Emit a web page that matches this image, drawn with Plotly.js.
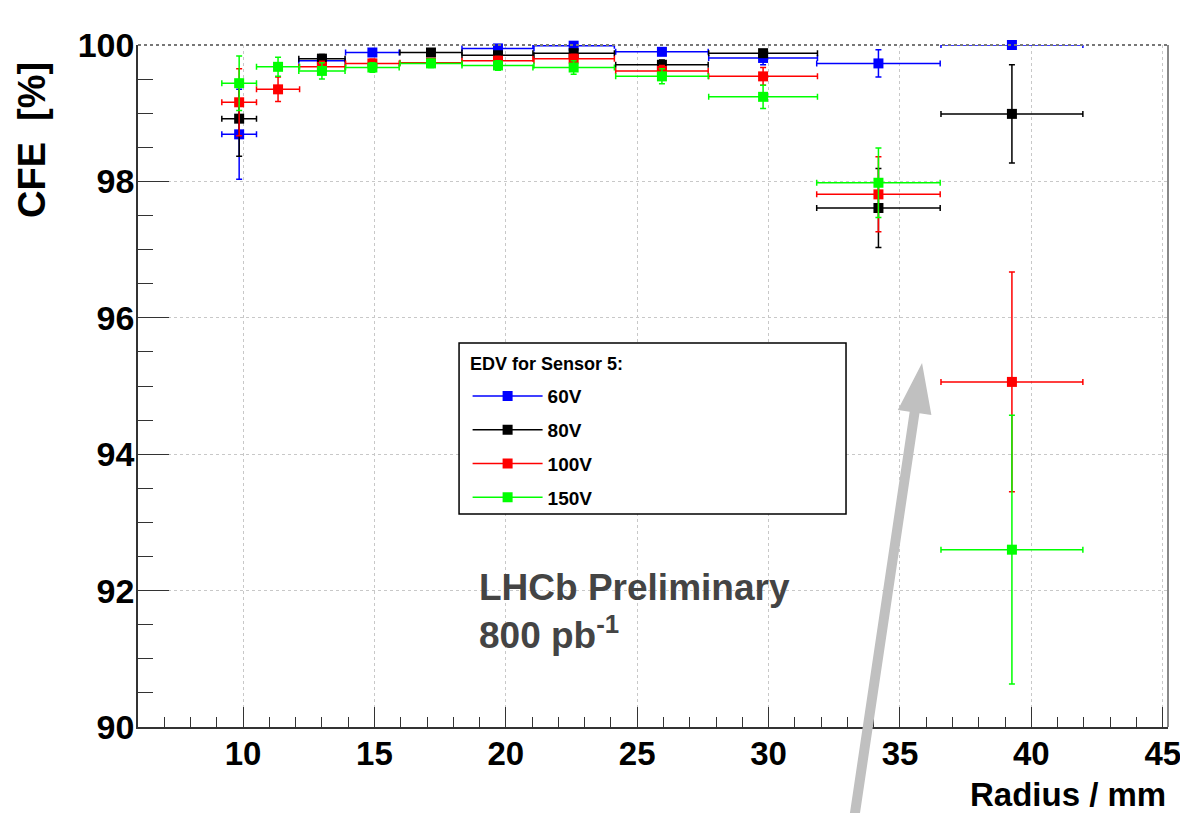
<!DOCTYPE html>
<html>
<head>
<meta charset="utf-8">
<script src="https://cdn.plot.ly/plotly-3.0.1.min.js"></script>
<style>html,body{margin:0;padding:0;background:#fff;}#chart{width:1180px;height:813px;}</style>
</head>
<body>
<div id="chart"></div>
<script>
// Radius bins (mm) and half bin widths
const radius    = [9.85, 11.33, 13.0, 14.92, 17.15, 19.7, 22.58, 25.94, 29.79, 34.18, 39.26];
const radiusErr = [0.66, 0.82, 0.88, 1.02, 1.18, 1.37, 1.55, 1.76, 2.07, 2.35, 2.70];

// CFE [%] per bias voltage (null = no point shown)
const cfe60V  = [98.69, null, 99.77, 99.89, null, 99.95, 99.99, 99.90, 99.81, 99.73, 100.0];
const err60V  = [0.66, null, 0.05, 0.04, null, 0.03, 0.02, 0.04, 0.10, 0.20, 0.0];
const cfe80V  = [98.92, null, 99.80, null, 99.89, 99.85, 99.88, 99.71, 99.88, 97.61, 98.99];
const err80V  = [0.55, null, 0.06, null, 0.04, 0.05, 0.05, 0.07, 0.05, 0.58, 0.72];
const cfe100V = [99.16, 99.35, 99.68, 99.73, 99.74, 99.77, 99.80, 99.62, 99.54, 97.81, 95.06];
const err100V = [0.49, 0.18, 0.08, 0.06, 0.06, 0.06, 0.06, 0.08, 0.13, 0.55, 1.61];
const cfe150V = [99.44, 99.68, 99.62, 99.67, 99.73, 99.70, 99.67, 99.54, 99.24, 97.98, 92.60];
const err150V = [0.40, 0.14, 0.12, 0.07, 0.06, 0.07, 0.10, 0.11, 0.17, 0.51, 1.97];

const seriesNames  = ['60V', '80V', '100V', '150V'];
const seriesValues = [cfe60V, cfe80V, cfe100V, cfe150V];
const seriesErrors = [err60V, err80V, err100V, err150V];
const seriesColors = ['#0000ff', '#000000', '#ff0000', '#00ff00'];

const legendTitle = 'EDV for Sensor 5:';
const xTitle = 'Radius / mm';
const yTitle = 'CFE\u00a0\u00a0[%]';
const labelText = 'LHCb Preliminary<br>800 pb<sup>-1</sup>';

// separate each point with a gap so points are not joined (legend still shows a line sample)
function isolate(vals, errs) {
  const X = [], Y = [], EX = [], EY = [];
  for (let i = 0; i < vals.length; i++) {
    if (vals[i] === null) continue;
    X.push(radius[i], null); Y.push(vals[i], null);
    EX.push(radiusErr[i], null); EY.push(errs[i], null);
  }
  return {X, Y, EX, EY};
}

const traces = seriesNames.map((name, k) => {
  const d = isolate(seriesValues[k], seriesErrors[k]);
  const c = seriesColors[k];
  return {
    type: 'scatter', mode: 'lines+markers', name: name, legendgroup: name,
    x: d.X, y: d.Y, connectgaps: false, cliponaxis: false,
    line: {color: c, width: 1.5},
    marker: {symbol: 'square', size: 10, color: c, line: {width: 0}},
    error_x: {type: 'data', array: d.EX, color: c, thickness: 1.5, width: 3},
    error_y: {type: 'data', array: d.EY, color: c, thickness: 1.5, width: 3},
    hoverinfo: 'x+y+name'
  };
});

const boldSans = 'Liberation Sans, Arial, Helvetica, sans-serif';

const layout = {
  width: 1180, height: 813,
  margin: {l: 138, r: 12, t: 45, b: 86, pad: 0},
  paper_bgcolor: '#ffffff', plot_bgcolor: '#ffffff',
  showlegend: true,
  legend: {
    x: 0.320, y: 0.5129, xanchor: 'left', yanchor: 'top',
    bgcolor: 'rgba(0,0,0,0)', borderwidth: 0,
    itemwidth: 70, tracegroupgap: 6, traceorder: 'grouped',
    font: {family: boldSans, size: 19, weight: 'bold', color: '#000'}
  },
  xaxis: {
    range: [6, 45.2], tickmode: 'linear', tick0: 0, dtick: 5,
    showline: true, linecolor: '#333', linewidth: 1.5,
    ticks: 'inside', ticklen: 20, tickwidth: 1, tickcolor: '#333',
    minor: {ticks: 'inside', ticklen: 10, dtick: 1, tick0: 0, tickcolor: '#333', tickwidth: 1},
    showgrid: true, gridcolor: '#c8c8c8', griddash: 'dot', gridwidth: 1,
    zeroline: false, ticklabeloverflow: 'allow', ticklabelstandoff: -3,
    tickfont: {family: boldSans, size: 33, weight: 'bold', color: '#000'}
  },
  yaxis: {
    range: [90, 100], tickmode: 'linear', tick0: 90, dtick: 2,
    showline: true, linecolor: '#333', linewidth: 1.5,
    ticks: 'inside', ticklen: 31, tickwidth: 1, tickcolor: '#333',
    minor: {ticks: 'inside', ticklen: 15, dtick: 0.5, tick0: 90, tickcolor: '#333', tickwidth: 1},
    showgrid: true, gridcolor: '#c8c8c8', griddash: 'dot', gridwidth: 1,
    zeroline: false, ticklabelstandoff: -5,
    tickfont: {family: boldSans, size: 34, weight: 'bold', color: '#000'}
  },
  shapes: [
    // legend box
    {type: 'rect', xref: 'paper', yref: 'paper', x0: 0.3117, x1: 0.6874, y0: 0.3123, y1: 0.563,
     fillcolor: '#ffffff', line: {color: '#000', width: 1.5}, layer: 'above'},
    // frame top and right
    {type: 'line', xref: 'paper', yref: 'paper', x0: 0, x1: 1, y0: 1, y1: 1,
     line: {color: '#777', width: 2, dash: 'dot'}},
    {type: 'line', xref: 'paper', yref: 'paper', x0: 1, x1: 1, y0: 0, y1: 1,
     line: {color: '#888', width: 2}},
    // grey arrow
    {type: 'path', xref: 'paper', yref: 'paper', layer: 'above',
     path: 'M0.6884,-0.1544 L0.7492,0.4622 L0.7377,0.4648 L0.7612,0.5337 L0.7703,0.4575 L0.7587,0.4601 L0.6980,-0.1564 Z',
     fillcolor: '#c0c0c0', line: {width: 0}}
  ],
  annotations: [
    {text: legendTitle, xref: 'paper', yref: 'paper', x: 0.3204, y: 0.5322,
     xanchor: 'left', yanchor: 'middle', showarrow: false,
     font: {family: boldSans, size: 18, weight: 'bold', color: '#000'}},
    {text: yTitle, xref: 'paper', yref: 'paper', x: -0.1029, y: 0.8607, textangle: -90,
     xanchor: 'center', yanchor: 'middle', showarrow: false,
     font: {family: boldSans, size: 38, weight: 'bold', color: '#000'}},
    {text: xTitle, xref: 'paper', yref: 'paper', x: 1.0, y: -0.1285,
     xanchor: 'right', yanchor: 'bottom', showarrow: false,
     font: {family: boldSans, size: 33, weight: 'bold', color: '#000'}},
    {text: labelText, xref: 'paper', yref: 'paper', x: 0.329, y: 0.170,
     xanchor: 'left', yanchor: 'middle', align: 'left', showarrow: false,
     font: {family: boldSans, size: 37, weight: 'bold', color: '#444'}}
  ]
};

Plotly.newPlot('chart', traces, layout, {displayModeBar: false});
</script>
</body>
</html>
